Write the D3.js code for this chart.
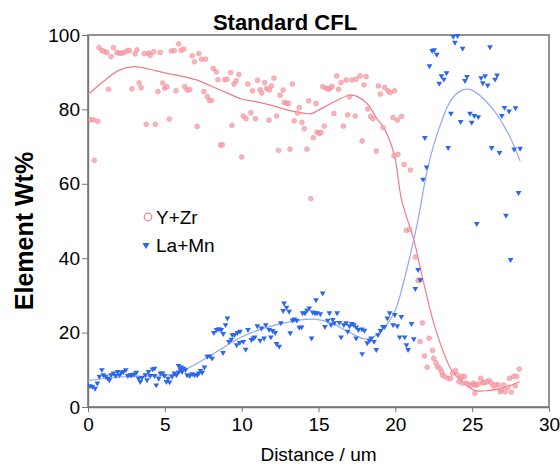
<!DOCTYPE html>
<html>
<head>
<meta charset="utf-8">
<script src="https://cdn.jsdelivr.net/npm/d3@7"></script>
<style>
  body { margin: 0; background: #fff; }
  text { font-family: Arial, "Liberation Sans", sans-serif; }
</style>
</head>
<body>
<div id="chart"></div>
<script>
// Y+Zr scatter (distance um, wt%)
const yzrX = [0.18,0.35,0.63,0.41,0.72,0.9,1.05,1.22,1.33,1.5,1.65,1.87,2.05,2.2,2.35,2.53,2.7,2.85,3.07,3.18,3.33,3.46,3.66,3.94,4.05,4.27,3.79,4.38,4.55,4.7,4.86,4.99,5.14,5.29,5.42,5.62,5.73,5.9,6.06,6.23,6.3,6.45,6.62,6.78,6.93,7.1,7.21,7.39,7.65,7.54,7.76,7.91,8.04,8.15,8.35,8.45,8.63,8.74,8.91,9.04,9.28,9.37,9.5,9.65,9.82,
  10,10.1,10.28,10.4,10.6,10.7,10.9,11.03,11.2,11.3,11.5,11.63,11.8,11.94,12.1,11.78,12.27,12.4,12.5,12.7,12.77,12.94,13.05,13.14,13.3,13.42,13.64,13.75,13.92,14.07,14.25,14.36,14.66,14.9,15.05,15.16,14.84,15.27,15.49,15.64,15.77,15.88,15.38,16,16.19,16.3,16.47,16.8,17.17,17.45,17.71,18.1,16.62,16.9,17.39,17.01,17.84,17.95,18.2,18.39,18.54,18.76,18.9,19.03,19.3,19.52,19.67,19.95,19.85,20.13,20.4,19.2,19.91,20.17,14.5,20.57,20.98,
  20.72,20.93,21.3,21.48,21.6,21.76,21.6,22.2,21.9,22.07,22.42,22.5,22.64,22.75,22.9,23,23.07,23.22,23.44,23.6,23.73,23.92,24.05,24.27,24.36,24.49,24.14,24.38,24.64,24.75,24.92,25.08,25.18,25.29,25.4,25.56,25.69,25.8,25.95,26.1,26.23,26.38,26.56,26.71,26.82,26.93,27.04,27.15,27.32,27.43,27.54,27.69,27.8,27.9,28.06,25.18];
const yzrY = [77.2,77.2,76.8,66.3,96.6,95.8,95.6,95.3,85.4,94.2,96.6,95.3,95.1,95.1,95.3,95.7,95.8,85.5,94.9,96,87.1,85.8,95,95.1,94.5,95.5,76,76,84.8,95.3,87.1,85.7,86.1,77.4,95.7,95.8,85,97.6,95.9,96.2,86.1,85.2,85.3,94.4,92.8,75.4,95,93.5,93.5,84.8,83.5,82.4,82.4,91,90.1,88,70.4,70.5,88,88.1,89.9,75.7,86.8,87.7,89.4,
  67.2,78.2,77.5,86.8,79.1,85,77.5,87.8,85.3,84.4,87.2,85.6,85.2,86.3,88.4,77.1,78.2,69,83.8,85.2,81.9,81.6,81.6,69.3,86.8,76.9,79,80.5,76.5,74.8,69.3,82.3,72.4,73.9,73.5,73.8,81.6,86.1,85.7,85.4,85.7,86.2,75.5,78.9,89,85.4,87.2,87.9,87.9,88.1,89,88.8,75.5,78.5,78.2,83.4,71.5,86.6,80.1,78.1,77.5,68.8,86.3,84.1,85.9,85,84.5,85,77.8,77.1,78.1,75.1,67.5,67.9,56,65.2,63.7,
  47.5,47.7,40.3,34,34.2,22.6,17.6,18.5,13.7,10.7,15.2,13.1,11.9,10.9,10.4,9.5,8.6,8.2,7.7,7.7,9.1,9.8,8.6,7.7,8.2,8.2,6.8,6.4,6.4,5.9,5.9,6.4,5.9,5.9,6.2,7.7,6.6,6.5,6.8,7.1,6.5,5.6,6,5.9,4.1,4.6,5.9,4.1,5.3,7.7,4,8.2,5.7,8.2,10.2,3.7];

// La+Mn scatter
const lamnX = [0.13,0.28,0.46,0.61,0.74,0.9,1,1.16,1.29,1.39,1.5,1.66,1.81,1.92,2.05,2.18,2.31,2.46,2.59,2.75,2.85,3.01,3.14,3.29,3.4,3.51,3.73,3.84,3.94,4.05,4.2,4.33,4.44,4.33,4.6,4.71,4.86,4.97,5.1,5.21,5.31,5.47,5.62,5.75,5.9,6.01,6.12,5.9,6.06,6.23,6.34,6.45,6.62,6.78,6.93,7.1,7.21,7.32,7.43,7.58,7.76,7.93,8.08,8.19,8.37,8.52,8.67,8.8,8.79,8.95,9.07,9.17,9.33,9.39,9.54,9.72,9.89,9.67,
  9.87,10.11,10.26,10.41,10.63,10.76,10.85,11.02,11.29,11.57,11.79,12.01,11.2,11.46,11.9,12.18,12.27,12.44,12.55,12.76,12.92,13.09,12.7,13.16,13.31,13.42,13.59,13.75,13.9,13.97,14.12,14.25,14.4,14.62,14.77,14.9,14.55,14.84,15.27,15.12,15.42,15.6,15.71,15.93,15.82,16.03,16.21,16.36,16.47,16.65,16.8,16.9,17.01,17.17,17.3,17.45,17.6,17.82,17.99,17.45,17.84,18.17,18.32,18.43,18.61,18.76,18.87,19.04,19.19,19.3,19.48,19.63,19.85,19.96,20.13,20.28,20.39,20.61,20.72,20.83,21.05,21.2,21.3,21.48,21.63,
  21.8,21.92,22.03,22.22,22.4,22.53,22.7,22.86,23,23.16,23.33,23.44,23.62,23.77,23.88,24.05,24.25,24.38,24.53,24.66,24.86,24.97,25.14,25.3,25.4,25.58,25.69,25.84,26.01,26.16,26.27,26.49,26.62,26.78,26.93,27.1,27.2,27.4,27.5,27.73,27.82,28.02,28.12];
const lamnY = [5.7,5.5,5,6.4,8.2,10,8.6,8.2,7.7,7.3,8.6,9.1,8.4,9.5,8.6,9.3,9.5,10,8.4,8.6,8.6,8.8,9.3,7.7,6.8,7.9,8.6,7.3,9.5,8.4,10.2,8.4,5.9,10.4,7.7,9.1,9.1,8.4,6.8,7.7,6.7,8.2,9.1,8.6,9.4,10,9.5,11.1,10.7,10.4,10,8.6,8.4,8.9,8.6,8.6,9.1,9.8,9.3,10.7,13.6,13.7,13.1,20,20.8,21,20.8,19.7,14.6,22.1,23.9,17.6,18.2,19.4,19.4,20,20.3,16.7,
  17.3,17.6,15.5,20.8,18.1,18.5,18.8,21.8,21.2,22.1,20.8,20.5,17.9,18.5,18.8,20,17,16.3,22.6,27.9,26.8,25.7,25.9,19.9,23.3,23.6,23.3,21.4,21.5,25.3,25.3,26,26.6,25.5,25.3,25.3,18.5,28.8,30.6,25,21.6,23.3,25.3,23.5,22.1,22.6,25.3,22.7,18.8,22.1,22.6,20.3,21.8,22.4,22.1,21.5,20.8,20.9,20.6,18.5,14.3,17.2,17.9,18.5,17.6,15.4,19.4,20.5,21.6,21.6,23.9,25.3,22.1,24.8,21.8,18.8,24.3,18.8,16.7,15.4,22.4,18.3,31.8,36.9,34.2,
  61.2,72.4,64.5,91.7,95.8,96,94.8,87,89,88.1,89.8,69.7,78.9,99.6,98,99.8,76.7,96.4,87.7,88.8,78.9,76.5,78.3,49.3,78,88.5,87.1,89,86.5,96.8,69.7,88.1,89.2,68.4,78.3,80.5,51.5,79.5,39.6,69.3,80.4,57.6,69.5];

// smoothed trend lines
const yzrFitX = [0,1,2,3,4,5,6,7,8,9,10,11,12,13,14,14.5,15,16,17,17.5,18.2,18.8,19.3,19.95,20.4,21.2,21.7,22.57,23.66,24.75,25.2,26,26.9,28.1];
const yzrFitY = [84,87.5,90.5,91.5,90.8,89.8,89,88,86.3,84.5,82.8,82,81,79.8,79,78.8,79.8,82,83.8,83.5,81.4,77.5,74.7,67.5,55.8,45,36,21.6,10,5.5,4.4,4.4,5,6.8];
const lamnFitX = [0,2.5,4.7,5.8,6.9,8.4,9.9,11.46,13.64,14.73,15.82,16.9,18.2,19.08,19.96,20.5,21.05,21.48,22.14,22.9,23.66,24.42,24.92,26.27,27.37,28.12];
const lamnFitY = [7.1,8.2,8.4,9.1,11.3,14.9,18.6,21.2,23.3,23.6,22.6,20.3,18.2,20.5,25.7,33,42.3,50.4,64.8,75.5,82.7,85.3,85.3,80.5,73.3,66.1];

const xTicks = [0, 5, 10, 15, 20, 25, 30];
const yTicks = [0, 20, 40, 60, 80, 100];

const W = 560, H = 464;
const margin = {top: 35, right: 11, bottom: 57, left: 88};
const width = W - margin.left - margin.right,
      height = H - margin.top - margin.bottom;

const RED = "#f07c88", RED_FILL = "#f7a9b0", BLUE = "#2a66ee", BLUE_LINE = "#8ea8f4";

const svg = d3.select("#chart").append("svg")
    .attr("width", W).attr("height", H);
const g = svg.append("g").attr("transform", `translate(${margin.left},${margin.top})`);

const x = d3.scaleLinear().domain([0, 30]).range([0, width]);
const y = d3.scaleLinear().domain([0, 100]).range([height, 0]);

// frame
g.append("rect")
    .attr("x", 0).attr("y", 0).attr("width", width).attr("height", height)
    .attr("fill", "none").attr("stroke", "#888").attr("stroke-width", 1.8);

// axes
const xAxis = g.append("g")
    .attr("transform", `translate(0,${height})`)
    .call(d3.axisBottom(x).tickValues(xTicks).tickSize(5).tickPadding(6).tickSizeOuter(0));
const yAxis = g.append("g")
    .call(d3.axisLeft(y).tickValues(yTicks).tickSize(6).tickPadding(2).tickSizeOuter(0));
[xAxis, yAxis].forEach(a => {
    a.select(".domain").attr("stroke", "#777").attr("stroke-width", 1.4);
    a.selectAll(".tick line").attr("stroke", "#777");
    a.selectAll("text").attr("fill", "#000").style("font-size", "19px")
        .style("font-family", "Arial, 'Liberation Sans', sans-serif");
});

// trend lines
const line = d3.line().curve(d3.curveCatmullRom.alpha(0.5))
    .x(d => x(d[0])).y(d => y(d[1]));
g.append("path")
    .datum(yzrFitX.map((v, i) => [v, yzrFitY[i]]))
    .attr("d", line).attr("fill", "none").attr("stroke", RED).attr("stroke-width", 1.2);
g.append("path")
    .datum(lamnFitX.map((v, i) => [v, lamnFitY[i]]))
    .attr("d", line).attr("fill", "none").attr("stroke", BLUE_LINE).attr("stroke-width", 1.2);

// Y+Zr points
g.append("g").selectAll("circle")
    .data(yzrX.map((v, i) => [v, yzrY[i]]))
    .join("circle")
        .attr("cx", d => x(d[0]))
        .attr("cy", d => y(d[1]))
        .attr("r", 2.4)
        .attr("fill", RED_FILL)
        .attr("stroke", RED)
        .attr("stroke-width", 0.6)
        .attr("opacity", 0.85);

// La+Mn points
const tri = d3.symbol().type(d3.symbolTriangle).size(14);
g.append("g").selectAll("path")
    .data(lamnX.map((v, i) => [v, lamnY[i]]))
    .join("path")
        .attr("d", tri)
        .attr("transform", d => `translate(${x(d[0])},${y(d[1])}) rotate(180)`)
        .attr("fill", BLUE);

// legend
const legend = svg.append("g");
legend.append("circle")
    .attr("cx", 148).attr("cy", 217).attr("r", 3.8)
    .attr("fill", "none").attr("stroke", RED).attr("stroke-width", 1.2);
legend.append("text").attr("x", 156).attr("y", 224)
    .style("font-size", "19px").text("Y+Zr");
legend.append("path")
    .attr("d", d3.symbol().type(d3.symbolTriangle).size(22))
    .attr("transform", "translate(146,245) rotate(180)")
    .attr("fill", BLUE);
legend.append("text").attr("x", 156).attr("y", 252)
    .style("font-size", "19px").text("La+Mn");

// titles
svg.append("text")
    .attr("x", 285).attr("y", 30)
    .attr("text-anchor", "middle")
    .style("font-size", "22px").style("font-weight", "bold")
    .text("Standard CFL");
svg.append("text")
    .attr("x", margin.left + width / 2).attr("y", 461)
    .attr("text-anchor", "middle")
    .style("font-size", "19px")
    .text("Distance / um");
svg.append("text")
    .attr("transform", "translate(33,231) rotate(-90)")
    .attr("text-anchor", "middle")
    .style("font-size", "25px").style("font-weight", "bold")
    .text("Element Wt%");
</script>
</body>
</html>
